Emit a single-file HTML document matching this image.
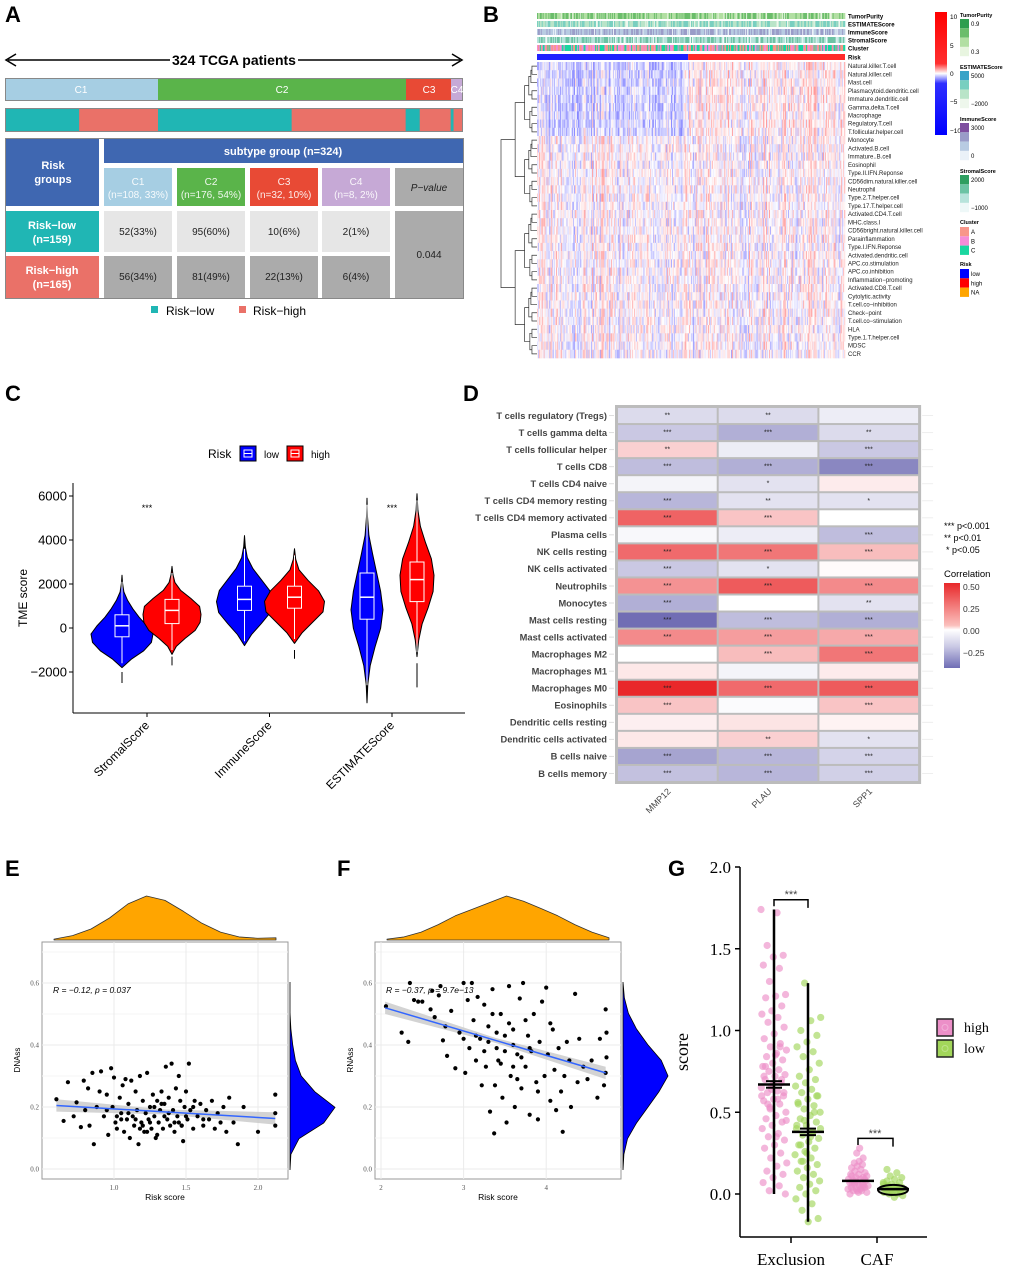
<!DOCTYPE html>
<html><head><meta charset="utf-8"><style>
html,body{margin:0;padding:0;background:#fff;}
svg{display:block;font-family:"Liberation Sans",sans-serif;}
</style></head><body>
<svg id="fig" width="1020" height="1270" viewBox="0 0 1020 1270" xmlns="http://www.w3.org/2000/svg">
<g font-weight="bold" font-size="22" fill="#000">
<text x="5" y="22">A</text>
<text x="483" y="22">B</text>
<text x="5" y="401">C</text>
<text x="463" y="401">D</text>
<text x="5" y="876">E</text>
<text x="337" y="876">F</text>
<text x="668" y="876">G</text>
</g>

<!-- PANEL A -->
<g id="panelA">
<line x1="8" y1="60" x2="170" y2="60" stroke="#000" stroke-width="1.5"/>
<line x1="298" y1="60" x2="460" y2="60" stroke="#000" stroke-width="1.5"/>
<polyline points="16,54 6,60 16,66" fill="none" stroke="#000" stroke-width="1.5"/>
<polyline points="452,54 462,60 452,66" fill="none" stroke="#000" stroke-width="1.5"/>
<text x="234" y="65" text-anchor="middle" font-size="14" font-weight="bold">324 TCGA patients</text>
<rect x="5" y="78" width="458" height="23" fill="#888"/>
<rect x="6" y="79" width="152" height="21" fill="#a6cee3"/>
<rect x="158" y="79" width="248" height="21" fill="#5ab44a"/>
<rect x="406" y="79" width="45" height="21" fill="#e84a35"/>
<rect x="451" y="79" width="11" height="21" fill="#c6a9d6"/>
<g fill="#fff" font-size="10" text-anchor="middle"><text x="81" y="93">C1</text><text x="282" y="93">C2</text><text x="429" y="93">C3</text><text x="457" y="93">C4</text></g>
<rect x="5" y="108" width="458" height="24" fill="#888"/>
<g id="riskBar"></g>
<rect x="5" y="138" width="459" height="161" fill="#888"/>
<rect x="6" y="139" width="457" height="159" fill="#fff"/>
<rect x="6" y="139" width="93" height="67" fill="#3f67b1"/>
<text x="53" y="169" fill="#fff" font-size="11" font-weight="bold" text-anchor="middle">Risk</text>
<text x="53" y="183" fill="#fff" font-size="11" font-weight="bold" text-anchor="middle">groups</text>
<rect x="6" y="211" width="93" height="41" fill="#20b6b4"/>
<text x="52" y="229" fill="#fff" font-size="11" font-weight="bold" text-anchor="middle">Risk−low</text>
<text x="52" y="243" fill="#fff" font-size="11" font-weight="bold" text-anchor="middle">(n=159)</text>
<rect x="6" y="256" width="93" height="42" fill="#ea7168"/>
<text x="52" y="274" fill="#fff" font-size="11" font-weight="bold" text-anchor="middle">Risk−high</text>
<text x="52" y="288" fill="#fff" font-size="11" font-weight="bold" text-anchor="middle">(n=165)</text>
<rect x="104" y="139" width="359" height="24" fill="#3f67b1"/>
<text x="283" y="155" fill="#fff" font-size="11" font-weight="bold" text-anchor="middle">subtype group (n=324)</text>
<g id="tableCells"></g>
<rect x="151" y="306" width="7" height="7" fill="#20b6b4"/>
<text x="166" y="315" font-size="12">Risk−low</text>
<rect x="239" y="306" width="7" height="7" fill="#ea7168"/>
<text x="253" y="315" font-size="12">Risk−high</text>
</g>

<g id="panelB"></g>
<g id="panelC"></g>
<g id="panelD"></g>
<g id="panelE"></g>
<g id="panelF"></g>
<g id="panelG"></g>
</svg>
<script>
const NS="http://www.w3.org/2000/svg";
function el(p,tag,at,txt){const e=document.createElementNS(NS,tag);for(const k in at)e.setAttribute(k,at[k]);if(txt!==undefined)e.textContent=txt;p.appendChild(e);return e;}

/* ---------- Panel A data ---------- */
const aSubtypes=["C1","C2","C3","C4"];
const aSubN=[108,176,32,8];
const aSubPct=["33%","54%","10%","2%"];
const aLowN=[52,95,10,2];
const aLowPct=["33%","60%","6%","1%"];
const aHighN=[56,81,22,6];
const aHighPct=["34%","49%","13%","4%"];
const aPvalue="0.044";
const aColors=["#a6cee3","#5ab44a","#e84a35","#c6a9d6"];
(function(){
 const rb=document.getElementById('riskBar');
 const total=aSubN.reduce((a,b)=>a+b,0);const sx=v=>6+v/total*456;
 let cum=0;
 for(let i=0;i<4;i++){
  const lowFrac=aLowN[i]/(aLowN[i]+aHighN[i]);
  const x0=sx(cum),x1=sx(cum+aSubN[i]);const xm=x0+(x1-x0)*lowFrac;
  const r1=el(rb,'rect',{x:x0,y:109,width:xm-x0,height:22,fill:'#20b6b4'});
  
  
  const r2=el(rb,'rect',{x:xm,y:109,width:x1-xm,height:22,fill:'#ea7168'});
  
  
  cum+=aSubN[i];
 }
 const tc=document.getElementById('tableCells');
 const xs=[104,177,250,322];
 for(let i=0;i<4;i++){
  const c=el(tc,'rect',{x:xs[i],y:168,width:68,height:38,fill:aColors[i]});
  
  
  el(tc,'text',{x:xs[i]+34,y:185,fill:'#fff','font-size':10,'text-anchor':'middle',opacity:0.9},aSubtypes[i]);
  el(tc,'text',{x:xs[i]+34,y:198,fill:'#fff','font-size':10,'text-anchor':'middle',opacity:0.9},"(n="+aSubN[i]+", "+aSubPct[i]+")");
  el(tc,'rect',{x:xs[i],y:211,width:68,height:41,fill:'#e6e6e6'});
  el(tc,'text',{x:xs[i]+34,y:235,'font-size':10,'text-anchor':'middle',fill:'#222'},aLowN[i]+"("+aLowPct[i]+")");
  el(tc,'rect',{x:xs[i],y:256,width:68,height:42,fill:'#ababab'});
  el(tc,'text',{x:xs[i]+34,y:280,'font-size':10,'text-anchor':'middle',fill:'#222'},aHighN[i]+"("+aHighPct[i]+")");
 }
 el(tc,'rect',{x:395,y:168,width:68,height:38,fill:'#ababab'});
 el(tc,'text',{x:429,y:191,'font-size':10,'font-style':'italic','text-anchor':'middle',fill:'#222'},"P−value");
 el(tc,'rect',{x:395,y:211,width:68,height:87,fill:'#ababab'});
 el(tc,'text',{x:429,y:258,'font-size':10,'text-anchor':'middle',fill:'#222'},aPvalue);
})();

/* ---------- Panel B ---------- */
const bRows=["Natural.killer.T.cell","Natural.killer.cell","Mast.cell","Plasmacytoid.dendritic.cell","Immature.dendritic.cell","Gamma.delta.T.cell","Macrophage","Regulatory.T.cell","T.follicular.helper.cell","Monocyte","Activated.B.cell","Immature..B.cell","Eosinophil","Type.II.IFN.Reponse","CD56dim.natural.killer.cell","Neutrophil","Type.2.T.helper.cell","Type.17.T.helper.cell","Activated.CD4.T.cell","MHC.class.I","CD56bright.natural.killer.cell","Parainflammation","Type.I.IFN.Reponse","Activated.dendritic.cell","APC.co.stimulation","APC.co.inhibition","Inflammation−promoting","Activated.CD8.T.cell","Cytolytic.activity","T.cell.co−inhibition","Check−point","T.cell.co−stimulation","HLA","Type.1.T.helper.cell","MDSC","CCR"];
const bAnnot=["TumorPurity","ESTIMATEScore","ImmuneScore","StromalScore","Cluster","Risk"];
const bNLow=159, bNHigh=165;
(function(){
 const g=document.getElementById('panelB');
 const x0=537,x1=845,nC=bNLow+bNHigh,cw=(x1-x0)/nC;
 const hm=(i,j)=>{const s=Math.sin(i*12.9898+j*78.233)*43758.5453;return s-Math.floor(s);};
 const annY=[13,21,29,37,45,54];
 const annCols=[["#2e9e4e","#6bbd6b","#b2dfa3","#e8f5e0"],["#3aa3c7","#79cfc0","#b9e4c8","#eef7ec"],["#8a62a8","#9a9cc8","#b8cbe2","#eaf1f8"],["#2e9e60","#6cc3a4","#b7e3db","#eef8f8"],["#f8968a","#f58cd8","#1ad6a0","#f8968a"]];
 for(let a=0;a<5;a++){
  for(let j=0;j<nC;j++){
   const v=hm(a+50,j);const k=Math.min(3,Math.floor(v*(a==4?3:3.3)));
   el(g,'rect',{x:x0+j*cw,y:annY[a],width:cw+0.3,height:6,fill:annCols[a][a==4?k:(1+Math.floor(v*2.2))]});
  }
  el(g,'text',{x:848,y:annY[a]+5.5,'font-size':6,'font-weight':'bold'},bAnnot[a]);
 }
 el(g,'rect',{x:x0,y:54,width:bNLow*cw,height:6,fill:'#2020ff'});
 el(g,'rect',{x:x0+bNLow*cw,y:54,width:bNHigh*cw,height:6,fill:'#ff2a2a'});
 el(g,'text',{x:848,y:59.5,'font-size':6,'font-weight':'bold'},"Risk");
 const y0=62,rh=296/bRows.length;
 const colEff=[];for(let j=0;j<nC;j++)colEff.push((hm(99,j)-0.5)*0.9);
 for(let i=0;i<bRows.length;i++){
  for(let j=0;j<nC;j++){
   let v=(hm(i,j)-0.5)*0.9+colEff[j];
   if(i<9){v+= j<bNLow?-0.3:0.15;} else {v+=0.05;}
   v=Math.max(-1,Math.min(1,v));
   let r,gg,b;
   if(v>=0){r=255;gg=255-v*110;b=255-v*110;}else{r=255+v*120;gg=255+v*120;b=255;}
   el(g,'rect',{x:x0+j*cw,y:y0+i*rh,width:cw+0.3,height:rh+0.3,fill:`rgb(${r|0},${gg|0},${b|0})`});
  }
  const t=el(g,'text',{x:848,y:y0+i*rh+rh*0.75,'font-size':6,fill:'#222'},bRows[i]);
  
  
 }
 function dend(a,b){
  if(a===b)return [y0+a*rh+rh/2,537];
  const m=Math.floor((a+b)/2);
  const L=dend(a,m),R=dend(m+1,b);
  const x=537-Math.min(36,4+(b-a)*1.05);
  el(g,'path',{d:`M${L[1]},${L[0]}H${x}V${R[0]}H${R[1]}`,fill:'none',stroke:'#333','stroke-width':0.7});
  return [(L[0]+R[0])/2,x];
 }
 dend(0,bRows.length-1);
 const grd=el(g,'linearGradient',{id:'bgrad',x1:0,y1:0,x2:0,y2:1});
 [["0","#ff0000"],["0.42","#ff3030"],["0.5","#ffffff"],["0.58","#3030ff"],["1","#0000ff"]].forEach(s=>el(grd,'stop',{offset:s[0],'stop-color':s[1]}));
 el(g,'rect',{x:935,y:12,width:12,height:123,fill:'url(#bgrad)'});
 [["10",17],["5",46],["0",74],["−5",102],["−10",131]].forEach(t=>el(g,'text',{x:950,y:t[1]+2,'font-size':6.5},t[0]));
 const lg=[["TumorPurity",12,["#2e9e4e","#6bbd6b","#b2dfa3","#e8f5e0"],["0.9","0.3"]],["ESTIMATEScore",64,["#3aa3c7","#79cfc0","#b9e4c8","#eef7ec"],["5000","−2000"]],["ImmuneScore",116,["#7e4f9f","#9a9cc8","#b8cbe2","#eaf1f8"],["3000","0"]],["StromalScore",168,["#2e9e60","#6cc3a4","#b7e3db","#eef8f8"],["2000","−1000"]]];
 lg.forEach(L=>{el(g,'text',{x:960,y:L[1]+5,'font-size':5.5,'font-weight':'bold'},L[0]);
  L[2].forEach((c,k)=>el(g,'rect',{x:960,y:L[1]+7+k*9.3,width:9,height:9.3,fill:c}));
  el(g,'text',{x:971,y:L[1]+14,'font-size':6},L[3][0]);el(g,'text',{x:971,y:L[1]+42,'font-size':6},L[3][1]);});
 el(g,'text',{x:960,y:224,'font-size':5.5,'font-weight':'bold'},"Cluster");
 [["#f8968a","A"],["#f58cd8","B"],["#1ad6a0","C"]].forEach((c,k)=>{el(g,'rect',{x:960,y:227+k*9.3,width:9,height:9.3,fill:c[0]});el(g,'text',{x:971,y:234+k*9.3,'font-size':6},c[1]);});
 el(g,'text',{x:960,y:266,'font-size':5.5,'font-weight':'bold'},"Risk");
 [["#0000ff","low"],["#ff0000","high"],["#ffa500","NA"]].forEach((c,k)=>{el(g,'rect',{x:960,y:269+k*9.3,width:9,height:9.3,fill:c[0]});el(g,'text',{x:971,y:276+k*9.3,'font-size':6},c[1]);});
})();

/* ---------- Panel C ---------- */
const cGroups=["StromalScore","ImmuneScore","ESTIMATEScore"];
const cSig=["***","","***"];
const cVmin=[[-1800,-1200],[-800,-700],[-3400,-1300]];
const cVmax=[[2400,2800],[4200,3600],[5900,6100]];
const cDens=[
 [[0,0.3,0.7,0.95,1,0.8,0.55,0.35,0.18,0.06,0.02,0],[0,0.15,0.45,0.8,0.97,1,0.95,0.65,0.3,0.1,0.03,0]],
 [[0,0.25,0.6,0.92,1,0.9,0.6,0.3,0.1,0.03,0],[0,0.25,0.6,0.95,1,0.8,0.45,0.15,0.04,0]],
 [[0,0.05,0.2,0.5,0.85,1,0.85,0.6,0.35,0.12,0.03,0],[0,0.1,0.3,0.65,0.95,1,0.85,0.5,0.2,0.05,0]]];
const cQ1=[[-400,200],[800,900],[400,1200]];
const cMed=[[100,800],[1300,1400],[1400,2200]];
const cQ3=[[600,1300],[1900,1900],[2500,3000]];
const cOut=[[[-2000,-2500],[-1300,-1700]],[[3600,4200],[-1000,-1400]],[[-2600,-3400],[-1600,-2700]]];
const cYTicks=[6000,4000,2000,0,-2000];
(function(){
 const g=document.getElementById('panelC');
 const yS=v=>628-v*0.022;const xC=i=>147+i*122.5;
 const hw=[[31,29],[28,30],[16,17]];
 el(g,'line',{x1:73,y1:483,x2:73,y2:713,stroke:'#000','stroke-width':1});
 el(g,'line',{x1:73,y1:713,x2:465,y2:713,stroke:'#000','stroke-width':1});
 cYTicks.forEach(t=>{el(g,'line',{x1:69,y1:yS(t),x2:73,y2:yS(t),stroke:'#000'});
  el(g,'text',{x:67,y:yS(t)+4.5,'font-size':13,'text-anchor':'end'},t<0?"−"+(-t):String(t));});
 el(g,'text',{x:27,y:598,'font-size':12,'text-anchor':'middle',transform:'rotate(-90 27 598)'},"TME score");
 cGroups.forEach((n,i)=>{
  el(g,'line',{x1:xC(i),y1:713,x2:xC(i),y2:717,stroke:'#000'});
  el(g,'text',{x:xC(i)+3,y:726,'font-size':12,'text-anchor':'end',transform:`rotate(-45 ${xC(i)+3} 726)`},n);
  if(cSig[i])el(g,'text',{x:xC(i),y:511,'font-size':9,'text-anchor':'middle'},cSig[i]);
  for(let s=0;s<2;s++){
   const cx=xC(i)+(s?25:-25),col=s?'#ff0000':'#0000ff';
   const d=cDens[i][s],lo=cVmin[i][s],hi=cVmax[i][s];
   let L=[],R=[];
   d.forEach((w,k)=>{const v=lo+(hi-lo)*k/(d.length-1);L.push([cx-w*hw[i][s],yS(v)]);R.push([cx+w*hw[i][s],yS(v)]);});
   const pts=L.concat(R.reverse());
   const p=el(g,'path',{d:'M'+pts.map(q=>q[0].toFixed(1)+','+q[1].toFixed(1)).join('L')+'Z',fill:col,stroke:'#000','stroke-width':1,'stroke-linejoin':'round'});
   
   
   el(g,'line',{x1:cx,y1:yS(lo+200),x2:cx,y2:yS(hi-300),stroke:'#fff','stroke-width':1});
   el(g,'rect',{x:cx-7,y:yS(cQ3[i][s]),width:14,height:yS(cQ1[i][s])-yS(cQ3[i][s]),fill:col,stroke:'#fff','stroke-width':1});
   el(g,'line',{x1:cx-7,y1:yS(cMed[i][s]),x2:cx+7,y2:yS(cMed[i][s]),stroke:'#fff','stroke-width':1.5});
   el(g,'line',{x1:cx,y1:yS(cOut[i][s][0]),x2:cx,y2:yS(cOut[i][s][1]),stroke:'#000','stroke-width':1});
  }
 });
 el(g,'text',{x:208,y:458,'font-size':12},"Risk");
 [[240,'#0000ff','low',264],[287,'#ff0000','high',311]].forEach(q=>{
  el(g,'rect',{x:q[0],y:446,width:16,height:15,fill:q[1],stroke:'#000'});
  el(g,'rect',{x:q[0]+4,y:450,width:8,height:7,fill:'none',stroke:'#fff'});
  el(g,'line',{x1:q[0]+4,y1:453.5,x2:q[0]+12,y2:453.5,stroke:'#fff'});
  el(g,'text',{x:q[3],y:458,'font-size':10},q[2]);});
})();

/* ---------- Panel D ---------- */
const dRows=["T cells regulatory (Tregs)","T cells gamma delta","T cells follicular helper","T cells CD8","T cells CD4 naive","T cells CD4 memory resting","T cells CD4 memory activated","Plasma cells","NK cells resting","NK cells activated","Neutrophils","Monocytes","Mast cells resting","Mast cells activated","Macrophages M2","Macrophages M1","Macrophages M0","Eosinophils","Dendritic cells resting","Dendritic cells activated","B cells naive","B cells memory"];
const dGenes=["MMP12","PLAU","SPP1"];
const dMMP12=[-0.1,-0.15,0.12,-0.18,-0.03,-0.2,0.4,-0.02,0.38,-0.15,0.28,-0.22,-0.4,0.3,0.0,0.06,0.55,0.15,0.04,0.06,-0.25,-0.17];
const dPLAU=[-0.1,-0.22,-0.05,-0.22,-0.08,-0.08,0.15,-0.05,0.35,-0.08,0.42,0.0,-0.18,0.25,0.17,-0.03,0.38,-0.01,0.07,0.12,-0.2,-0.2];
const dSPP1=[-0.05,-0.1,-0.15,-0.33,0.05,-0.08,0.0,-0.18,0.17,0.01,0.3,-0.08,-0.22,0.22,0.35,0.05,0.42,0.15,0.03,-0.08,-0.12,-0.13];
const dStarMMP12=["**","***","**","***","","***","***","","***","***","***","***","***","***","","","***","***","","","***","***"];
const dStarPLAU=["**","***","","***","*","**","***","","***","*","***","","***","***","***","","***","","","**","***","***"];
const dStarSPP1=["","**","***","***","","*","","***","***","","***","**","***","***","***","","***","***","","*","***","***"];
(function(){
 const g=document.getElementById('panelD');
 const vals=[dMMP12,dPLAU,dSPP1],stars=[dStarMMP12,dStarPLAU,dStarSPP1];
 const x0=617,cw=100.7,y0=407,rh=(782-407)/dRows.length;
 const col=v=>{if(v>=0){const t=Math.min(1,v/0.55);return `rgb(${Math.round(255-t*22)},${Math.round(255-t*215)},${Math.round(255-t*213)})`;}
  const t=Math.min(1,-v/0.4);return `rgb(${Math.round(255-t*142)},${Math.round(255-t*146)},${Math.round(255-t*75)})`;};
 el(g,'rect',{x:x0-2,y:y0-2,width:cw*3+4,height:rh*dRows.length+4,fill:'#bcbcbc'});
 dRows.forEach((n,i)=>{
  const y=y0+i*rh;
  el(g,'line',{x1:x0-8,y1:y+rh/2,x2:x0-3,y2:y+rh/2,stroke:'#ddd'});
  el(g,'line',{x1:x0+cw*3+3,y1:y+rh/2,x2:x0+cw*3+14,y2:y+rh/2,stroke:'#eee'});
  const t=el(g,'text',{x:607,y:y+rh/2+3.3,'font-size':9.3,'font-weight':'bold','text-anchor':'end',fill:'#444'},n);
  
  
  for(let k=0;k<3;k++){
   const r=el(g,'rect',{x:x0+k*cw+1,y:y+1,width:cw-2,height:rh-2,fill:col(vals[k][i])});
   
   
   if(stars[k][i])el(g,'text',{x:x0+k*cw+cw/2,y:y+rh/2+2,'font-size':7,'text-anchor':'middle',fill:'#222'},stars[k][i]);
  }
 });
 dGenes.forEach((n,k)=>{const cx=x0+k*cw+cw/2+4,cy=792;
  el(g,'text',{x:cx,y:cy,'font-size':9,'text-anchor':'end',fill:'#444',transform:`rotate(-45 ${cx} ${cy})`},n);});
 el(g,'text',{x:944,y:529,'font-size':9},"***  p<0.001");
 el(g,'text',{x:944,y:541,'font-size':9},"**  p<0.01");
 el(g,'text',{x:946,y:553,'font-size':9},"*  p<0.05");
 el(g,'text',{x:944,y:577,'font-size':9.5},"Correlation");
 const grd=el(g,'linearGradient',{id:'dgrad',x1:0,y1:0,x2:0,y2:1});
 [["0","#e8282a"],["0.5","#fbc0bd"],["0.55","#ffffff"],["0.75","#c9c8e4"],["1","#6f6db5"]].forEach(s=>el(grd,'stop',{offset:s[0],'stop-color':s[1]}));
 el(g,'rect',{x:944,y:583,width:16,height:85,fill:'url(#dgrad)'});
 [["0.50",590],["0.25",612],["0.00",634],["−0.25",656]].forEach(t=>el(g,'text',{x:963,y:t[1],'font-size':8.5,fill:'#333'},t[0]));
})();

/* ---------- Panels E & F ---------- */
const eX=[0.6,0.65,0.68,0.72,0.74,0.77,0.79,0.8,0.82,0.83,0.85,0.86,0.88,0.9,0.91,0.93,0.95,0.96,0.98,0.99,1.0,1.01,1.02,1.04,1.05,1.06,1.07,1.08,1.09,1.1,1.11,1.12,1.13,1.14,1.15,1.16,1.17,1.18,1.19,1.2,1.21,1.22,1.23,1.24,1.25,1.26,1.27,1.28,1.29,1.3,1.31,1.32,1.33,1.34,1.35,1.36,1.37,1.38,1.39,1.4,1.41,1.42,1.43,1.44,1.45,1.46,1.47,1.48,1.49,1.5,1.51,1.52,1.53,1.55,1.56,1.58,1.6,1.62,1.64,1.66,1.68,1.7,1.72,1.74,1.76,1.78,1.8,1.83,1.86,1.9,2.0,2.12,2.12,2.12,1.15,1.25,1.35,1.45,1.3,1.2,1.05,1.1,1.18,1.28,1.38,1.42,1.5,1.55,1.62,1.02,0.95,1.33,1.23,1.47];
const eY=[0.225,0.155,0.28,0.17,0.215,0.135,0.285,0.19,0.26,0.14,0.31,0.08,0.2,0.25,0.315,0.17,0.24,0.11,0.325,0.2,0.295,0.15,0.13,0.23,0.18,0.27,0.12,0.29,0.16,0.21,0.1,0.285,0.17,0.14,0.25,0.19,0.08,0.3,0.15,0.22,0.12,0.18,0.31,0.16,0.2,0.13,0.24,0.17,0.1,0.22,0.15,0.19,0.25,0.13,0.21,0.33,0.16,0.23,0.14,0.34,0.19,0.12,0.26,0.17,0.3,0.22,0.14,0.09,0.2,0.25,0.16,0.34,0.19,0.13,0.22,0.17,0.21,0.14,0.19,0.16,0.22,0.13,0.18,0.15,0.2,0.12,0.23,0.15,0.08,0.2,0.12,0.24,0.18,0.14,0.16,0.15,0.17,0.15,0.11,0.14,0.16,0.18,0.13,0.2,0.18,0.15,0.17,0.2,0.16,0.17,0.19,0.21,0.12,0.14];
const eTopDens=[0.02,0.1,0.25,0.5,0.82,1,0.9,0.65,0.38,0.18,0.07,0.04,0.05];
const eRightDens=[0,0.02,0.2,0.75,1,0.55,0.25,0.12,0.06,0.02,0,0,0];
const fX=[2.06,2.25,2.33,2.35,2.4,2.45,2.5,2.6,2.62,2.65,2.7,2.72,2.75,2.78,2.8,2.85,2.9,2.95,3.0,3.02,3.05,3.07,3.1,3.12,3.15,3.17,3.2,3.22,3.25,3.27,3.3,3.32,3.35,3.37,3.38,3.4,3.42,3.45,3.47,3.5,3.52,3.55,3.57,3.6,3.62,3.65,3.68,3.7,3.72,3.75,3.78,3.8,3.82,3.85,3.88,3.9,3.92,3.95,3.98,4.0,4.02,4.05,4.08,4.1,4.12,4.15,4.18,4.2,4.22,4.25,4.28,4.3,4.35,4.38,4.4,4.45,4.5,4.55,4.62,4.65,4.7,4.72,4.73,4.73,4.72,3.3,3.4,3.5,3.6,3.7,3.8,3.45,3.55,3.65,3.75,3.25,3.15,3.0,3.35,3.6,3.9,4.05];
const fY=[0.525,0.44,0.41,0.6,0.545,0.54,0.54,0.515,0.575,0.49,0.56,0.59,0.415,0.46,0.365,0.51,0.325,0.44,0.6,0.31,0.545,0.39,0.6,0.48,0.35,0.555,0.42,0.27,0.53,0.33,0.46,0.185,0.58,0.115,0.27,0.44,0.35,0.5,0.23,0.38,0.15,0.59,0.3,0.45,0.2,0.37,0.55,0.26,0.6,0.33,0.43,0.175,0.38,0.5,0.28,0.16,0.41,0.54,0.3,0.585,0.37,0.22,0.45,0.32,0.19,0.39,0.25,0.12,0.3,0.41,0.35,0.2,0.565,0.28,0.42,0.33,0.29,0.35,0.23,0.42,0.27,0.515,0.44,0.36,0.31,0.41,0.39,0.43,0.4,0.36,0.39,0.34,0.47,0.29,0.48,0.38,0.43,0.42,0.5,0.33,0.25,0.47];
const fTopDens=[0.02,0.07,0.18,0.35,0.55,0.7,0.85,1,0.88,0.72,0.55,0.35,0.18,0.05];
const fRightDens=[0,0.02,0.1,0.3,0.55,0.8,1,0.85,0.55,0.3,0.12,0.03,0];
function scatterPanel(id,X,Y,topD,rightD,xr,ticks,reg,label,ylab,bx0,xOff){
 const g=document.getElementById(id);
 const bx1=bx0+246,by0=942,by1=1179;
 const xs=v=>xOff+(v-xr[0])*xr[1],ys=v=>1169-v*310;
 el(g,'rect',{x:bx0,y:by0,width:246,height:237,fill:'#fff',stroke:'#999','stroke-width':1});
 [0,0.2,0.4,0.6].forEach(t=>{el(g,'line',{x1:bx0,y1:ys(t),x2:bx1,y2:ys(t),stroke:'#ebebeb'});
  el(g,'line',{x1:bx0,y1:ys(t+0.1),x2:bx1,y2:ys(t+0.1),stroke:'#f5f5f5'});
  el(g,'text',{x:bx0-3,y:ys(t)+2.5,'font-size':7,'text-anchor':'end',fill:'#555','font-family':'Liberation Serif'},t.toFixed(1));});
 ticks.forEach(t=>{el(g,'line',{x1:xs(t[0]),y1:by0,x2:xs(t[0]),y2:by1,stroke:'#ebebeb'});
  el(g,'text',{x:xs(t[0]),y:1190,'font-size':7,'text-anchor':'middle',fill:'#555','font-family':'Liberation Serif'},t[1]);});
 const xa=reg[0],xb=reg[1];
 el(g,'path',{d:`M${xs(xa)},${ys(reg[2]+0.02)}L${xs((xa+xb)/2)},${ys((reg[2]+reg[3])/2+0.008)}L${xs(xb)},${ys(reg[3]+0.02)}L${xs(xb)},${ys(reg[3]-0.02)}L${xs((xa+xb)/2)},${ys((reg[2]+reg[3])/2-0.008)}L${xs(xa)},${ys(reg[2]-0.02)}Z`,fill:'#c8c8c8',opacity:0.8});
 X.forEach((x,i)=>{const c=el(g,'circle',{cx:xs(x),cy:ys(Y[i]),r:2.1,fill:'#000'});
  
  });
 const rl=el(g,'line',{x1:xs(xa),y1:ys(reg[2]),x2:xs(xb),y2:ys(reg[3]),stroke:'#3366ff','stroke-width':1.5});
 
 
 el(g,'text',{x:bx0+11,y:993,'font-size':8.5,'font-style':'italic'},label);
 el(g,'text',{x:bx0-22,y:1060,'font-size':8,'text-anchor':'middle',transform:`rotate(-90 ${bx0-22} 1060)`},ylab);
 el(g,'text',{x:bx0+123,y:1200,'font-size':8.5,'text-anchor':'middle'},"Risk score");
 const tx0=bx0+12,tx1=bx1-12,n=topD.length;
 let d=`M${tx0},940`;topD.forEach((h,k)=>{d+=`L${tx0+(tx1-tx0)*k/(n-1)},${940-h*44}`;});d+=`L${tx1},940Z`;
 el(g,'path',{d:d,fill:'#ffa500',stroke:'#333','stroke-width':0.8,'stroke-linejoin':'round'});
 const ry0=982,ry1=1170,m=rightD.length,rx=bx1+2;
 let d2=`M${rx},${ry1}`;rightD.forEach((h,k)=>{d2+=`L${rx+h*45},${ry1-(ry1-ry0)*k/(m-1)}`;});d2+=`L${rx},${ry0}Z`;
 el(g,'path',{d:d2,fill:'#0000ff',stroke:'#000','stroke-width':0.8});
}
scatterPanel('panelE',eX,eY,eTopDens,eRightDens,[0.5,144],[[1,"1.0"],[1.5,"1.5"],[2,"2.0"]],[0.6,2.12,0.205,0.163],"R = −0.12, p = 0.037","DNAss",42,42);
scatterPanel('panelF',fX,fY,fTopDens,fRightDens,[2,82.6],[[2,"2"],[3,"3"],[4,"4"]],[2.05,4.72,0.52,0.31],"R = −0.37, p = 9.7e−13","RNAss",375,381);

/* ---------- Panel G ---------- */
const gGroups=["Exclusion","CAF"];
const gExclHigh=[1.74,1.72,1.52,1.46,1.45,1.4,1.38,1.3,1.22,1.21,1.2,1.15,1.12,1.1,1.08,1.05,1.02,0.98,0.95,0.92,0.9,0.88,0.86,0.84,0.82,0.8,0.78,0.76,0.75,0.73,0.72,0.7,0.68,0.66,0.65,0.63,0.62,0.6,0.58,0.57,0.55,0.53,0.5,0.48,0.46,0.44,0.42,0.4,0.37,0.35,0.33,0.3,0.28,0.25,0.22,0.19,0.17,0.14,0.12,0.1,0.07,0.05,0.02,0.0,0.85,0.78,0.7,0.64,0.6,0.58,0.55,0.62,0.68,0.72,0.9,0.52,0.45,0.35];
const gExclLow=[1.29,1.08,1.06,1.0,0.97,0.93,0.9,0.87,0.84,0.8,0.76,0.72,0.7,0.68,0.66,0.64,0.62,0.6,0.58,0.56,0.54,0.52,0.5,0.48,0.46,0.44,0.42,0.4,0.38,0.36,0.34,0.32,0.3,0.28,0.26,0.24,0.22,0.2,0.18,0.16,0.14,0.12,0.1,0.08,0.06,0.04,0.02,0.0,-0.03,-0.06,-0.1,-0.15,-0.17,0.55,0.5,0.45,0.4,0.35,0.3,0.6,0.25,0.42,0.38,0.2];
const gCafHigh=[0.28,0.25,0.22,0.2,0.19,0.18,0.17,0.16,0.15,0.14,0.13,0.12,0.11,0.1,0.1,0.09,0.09,0.08,0.08,0.07,0.07,0.06,0.06,0.05,0.05,0.04,0.04,0.03,0.03,0.02,0.02,0.01,0.01,0.0,0.05,0.08,0.11,0.03,0.06,0.09,0.02,0.12,0.04,0.07];
const gCafLow=[0.15,0.13,0.11,0.1,0.09,0.08,0.07,0.06,0.06,0.05,0.05,0.04,0.04,0.03,0.03,0.03,0.02,0.02,0.02,0.01,0.01,0.01,0.0,0.0,-0.01,-0.02,0.05,0.03,0.02,0.07,0.04];
const gMeans=[0.67,0.38,0.08,0.03];
const gSE=[0.02,0.02,0.005,0.005];
const gYTicks=[0,0.5,1,1.5,2];
(function(){
 const g=document.getElementById('panelG');
 const ys=v=>1194-v*163.5;
 el(g,'line',{x1:740,y1:867,x2:740,y2:1237,stroke:'#000','stroke-width':1.5});
 el(g,'line',{x1:740,y1:1237,x2:927,y2:1237,stroke:'#000','stroke-width':1.5});
 gYTicks.forEach(t=>{el(g,'line',{x1:735,y1:ys(t),x2:740,y2:ys(t),stroke:'#000','stroke-width':1.5});
  el(g,'text',{x:731,y:ys(t)+6,'font-size':17,'text-anchor':'end','font-family':'Liberation Serif'},t.toFixed(1));});
 el(g,'text',{x:688,y:1052,'font-size':18,'text-anchor':'middle','font-family':'Liberation Serif',transform:'rotate(-90 688 1052)'},"score");
 const gx=[791,877];
 gGroups.forEach((n,i)=>{el(g,'line',{x1:gx[i],y1:1237,x2:gx[i],y2:1243,stroke:'#000','stroke-width':1.5});
  el(g,'text',{x:gx[i],y:1265,'font-size':17,'text-anchor':'middle','font-family':'Liberation Serif'},n);});
 const sets=[[gExclHigh,774,'#ec8fc8',13],[gExclLow,808,'#a2d65a',13],[gCafHigh,858,'#ec8fc8',11],[gCafLow,893,'#a2d65a',11]];
 sets.forEach((s,k)=>{
  const arr=s[0],cx=s[1];
  arr.forEach((v,i)=>{let f=(i*0.6180339+k*0.37)%1;let w=s[3];
   if(k>=2)w=s[3]*Math.min(1,0.25+(0.3-v)*3);
   const jx=(f*2-1)*w;
   const c=el(g,'circle',{cx:cx+jx,cy:ys(v),r:3.6,fill:s[2],opacity:0.65});
   
   });
  if(k<2)el(g,'line',{x1:cx,y1:ys(Math.max(...arr)),x2:cx,y2:ys(Math.min(...arr)),stroke:'#000','stroke-width':2.5});
  el(g,'line',{x1:cx-16,y1:ys(gMeans[k]),x2:cx+16,y2:ys(gMeans[k]),stroke:'#000','stroke-width':2.5});
  if(k<2){[gMeans[k]+gSE[k],gMeans[k]-gSE[k]].forEach(v=>el(g,'line',{x1:cx-8,y1:ys(v),x2:cx+8,y2:ys(v),stroke:'#000','stroke-width':2}));
   el(g,'line',{x1:cx,y1:ys(gMeans[k]+gSE[k]),x2:cx,y2:ys(gMeans[k]-gSE[k]),stroke:'#000','stroke-width':2});}
 });
 el(g,'ellipse',{cx:893,cy:ys(0.025),rx:15,ry:5,fill:'none',stroke:'#000','stroke-width':2});
 el(g,'path',{d:`M774,${ys(1.76)}V${ys(1.8)}H808V${ys(1.75)}`,fill:'none',stroke:'#000','stroke-width':1.5});
 el(g,'text',{x:791,y:ys(1.81),'font-size':11,'text-anchor':'middle',fill:'#444'},"***");
 el(g,'path',{d:`M858,${ys(0.3)}V${ys(0.34)}H893V${ys(0.29)}`,fill:'none',stroke:'#000','stroke-width':1.5});
 el(g,'text',{x:875,y:ys(0.35),'font-size':11,'text-anchor':'middle',fill:'#444'},"***");
 [['#ec8fc8',1019,'high'],['#a2d65a',1040,'low']].forEach(q=>{
  el(g,'rect',{x:937,y:q[1],width:16,height:17,fill:q[0],stroke:'#222','stroke-width':1.5});
  el(g,'circle',{cx:945,cy:q[1]+8.5,r:3,fill:q[0],stroke:'#fff','stroke-opacity':0.3});
  el(g,'text',{x:964,y:q[1]+13,'font-size':14,'font-family':'Liberation Serif'},q[2]);});
})();
</script>
</body></html>
